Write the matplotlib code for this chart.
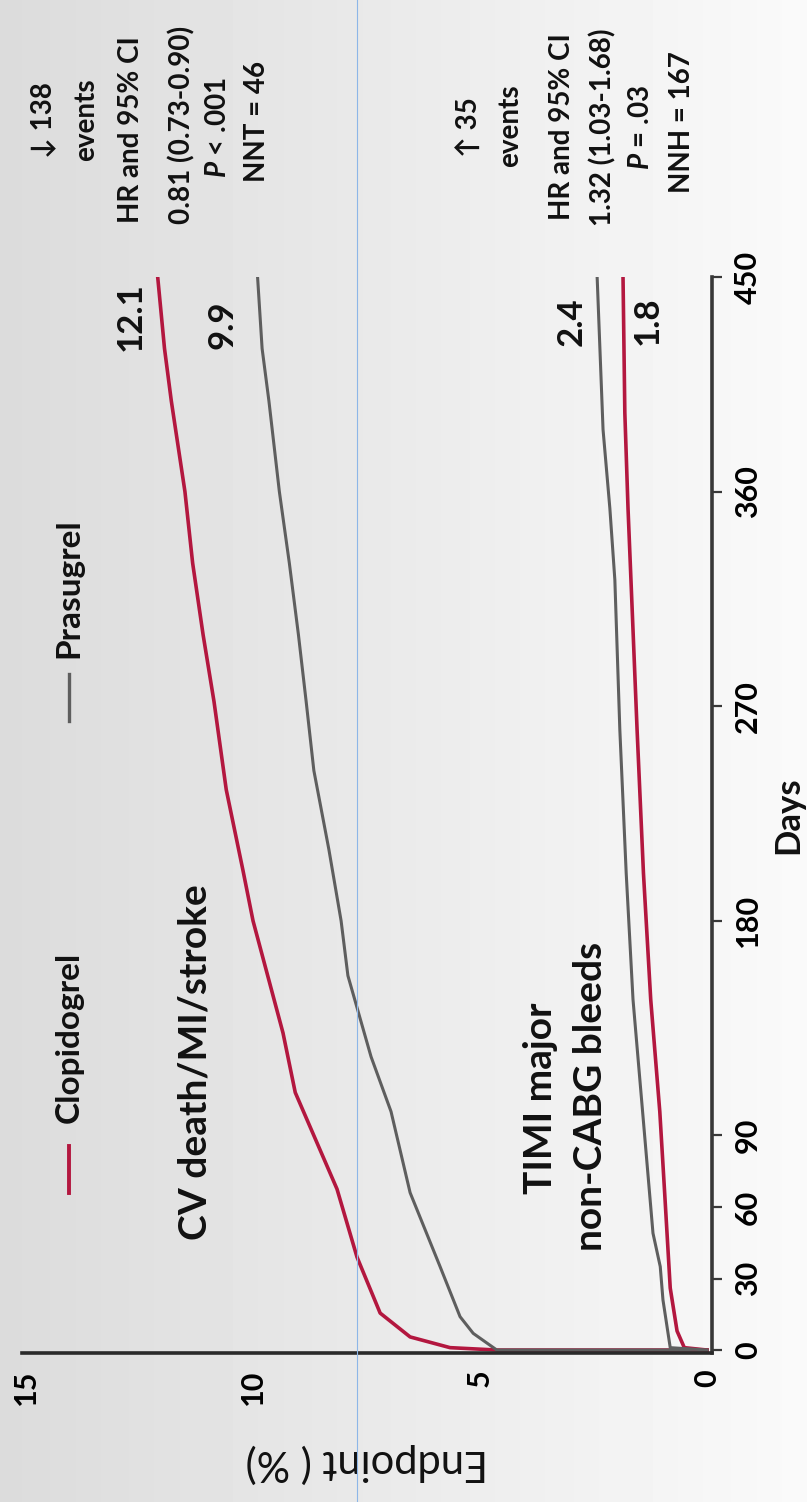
import matplotlib
matplotlib.use('Agg')
import matplotlib.pyplot as plt
import numpy as np
from matplotlib.lines import Line2D

# ---------------- data ----------------
days_cv_clop = [0, 0, 1, 5.5, 15.5, 39, 67.5, 108, 133, 180, 201, 235, 272, 300, 330, 360, 398, 420, 450]
cv_clop = [0, 4.63, 5.66, 6.54, 7.2, 7.71, 8.15, 9.07, 9.34, 10.0, 10.22, 10.59, 10.86, 11.1, 11.33, 11.5, 11.8, 11.95, 12.1]

days_cv_pras = [0, 0, 7, 14, 35, 66, 100, 123, 157, 180, 210, 243, 272, 300, 330, 360, 398, 420, 450]
cv_pras = [0, 4.63, 5.15, 5.44, 5.88, 6.54, 6.96, 7.4, 7.91, 8.06, 8.33, 8.66, 8.83, 9.0, 9.2, 9.42, 9.65, 9.8, 9.9]

days_bl_clop = [0, 1, 8, 26, 65, 100, 147, 200, 260, 302, 353, 393, 450]
bl_clop = [0, 0.5, 0.66, 0.81, 0.93, 1.04, 1.24, 1.4, 1.54, 1.63, 1.74, 1.81, 1.85]

days_bl_pras = [0, 1, 21, 35, 49, 98, 147, 200, 260, 323, 353, 386, 450]
bl_pras = [0, 0.81, 0.97, 1.03, 1.19, 1.41, 1.63, 1.78, 1.92, 2.03, 2.14, 2.29, 2.42]

day_ticks = [0, 30, 60, 90, 180, 270, 360, 450]
endpoint_ticks = [0, 5, 10, 15]
series_names = ['Clopidogrel', 'Prasugrel']
end_labels = ['12.1', '9.9', '2.4', '1.8']
block1 = ['\u2193 138', 'events', 'HR and 95% CI', '0.81 (0.73-0.90)', r'$\mathit{P}$ < .001', 'NNT = 46']
block2 = ['\u2191 35', 'events', 'HR and 95% CI', '1.32 (1.03-1.68)', r'$\mathit{P}$ = .03', 'NNH = 167']

RED = '#b3173f'
GRAY = '#5e5e5e'
AXC = '#383838'

W, H = 807, 1502
plt.rcParams['font.family'] = ['Lato', 'DejaVu Sans']
plt.rcParams['mathtext.fontset'] = 'custom'
plt.rcParams['mathtext.it'] = 'Lato:italic:bold'
plt.rcParams['mathtext.rm'] = 'Lato:bold'
plt.rcParams['mathtext.bf'] = 'Lato:bold'

fig = plt.figure(figsize=(W / 100, H / 100), dpi=100)

def fx(x):
    return x / W

def fy(y):
    return 1 - y / H

# background gradient
bg = fig.add_axes([0, 0, 1, 1], zorder=0)
grad = np.linspace(0.86, 0.98, 256)[None, :]
bg.imshow(grad, cmap='gray', vmin=0, vmax=1, aspect='auto', extent=[0, 1, 0, 1])
bg.axis('off')

# main axes (rotated layout: days vertical, endpoint horizontal reversed)
x_left_px, x_right_px = 21.5, 712
y_top_px, y_bot_px = 277, 1352.9
ax = fig.add_axes([fx(x_left_px), fy(y_bot_px), (x_right_px - x_left_px) / W, (y_bot_px - y_top_px) / H], zorder=2)
ax.patch.set_alpha(0)

ax.plot(cv_clop, days_cv_clop, color=RED, lw=2.6, solid_joinstyle='round')
ax.plot(cv_pras, days_cv_pras, color=GRAY, lw=2.2, solid_joinstyle='round')
ax.plot(bl_clop, days_bl_clop, color=RED, lw=2.6, solid_joinstyle='round')
ax.plot(bl_pras, days_bl_pras, color=GRAY, lw=2.2, solid_joinstyle='round')

ax.set_xlim(15.1, -0.11)
ax.set_ylim(-1.2, 450)
for s in ['left', 'top']:
    ax.spines[s].set_visible(False)
for s in ['right', 'bottom']:
    ax.spines[s].set_color(AXC)
    ax.spines[s].set_linewidth(2.6)
ax.spines['bottom'].set_color('#2a2a2a')

ax.yaxis.tick_right()
ax.set_yticks(day_ticks)
ax.set_yticklabels([str(d) for d in day_ticks])
ax.tick_params(axis='y', direction='out', length=7, width=1.6, color=AXC, pad=9, labelsize=22)
for t in ax.get_yticklabels():
    t.set_rotation(90)
    t.set_va('center')
    t.set_ha('left')
    t.set_fontweight('bold')

ax.set_xticks(endpoint_ticks)
ax.set_xticklabels([str(v) for v in endpoint_ticks])
ax.tick_params(axis='x', length=0, pad=12, labelsize=22)
for t in ax.get_xticklabels():
    t.set_rotation(90)
    t.set_va('top')
    t.set_ha('center')
    t.set_fontweight('bold')

# axis titles
fig.text(fx(367), fy(1463), 'Endpoint ( %)', rotation=180, ha='center', va='center', fontsize=30, color='#111')
fig.text(fx(788), fy(815), 'Days', rotation=90, ha='center', va='center', fontsize=25, fontweight='bold', color='#111')

# thin blue vertical artefact line
fig.add_artist(Line2D([fx(357), fx(357)], [0, 1], color='#8db6e8', lw=0.8, transform=fig.transFigure, zorder=5))

# legend
fig.add_artist(Line2D([fx(69), fx(69)], [fy(1193), fy(1146)], color=RED, lw=2.8, transform=fig.transFigure, zorder=3))
fig.text(fx(69), fy(1037), series_names[0], rotation=90, ha='center', va='center', fontsize=24, fontweight='bold', color='#111')
fig.add_artist(Line2D([fx(69), fx(69)], [fy(721), fy(674)], color=GRAY, lw=2.4, transform=fig.transFigure, zorder=3))
fig.text(fx(69), fy(588), series_names[1], rotation=90, ha='center', va='center', fontsize=24, fontweight='bold', color='#111')

# panel labels
fig.text(fx(195), fy(1062), 'CV death/MI/stroke', rotation=90, ha='center', va='center', fontsize=28, fontweight='bold', color='#111')
fig.text(fx(540), fy(1098), 'TIMI major', rotation=90, ha='center', va='center', fontsize=28, fontweight='bold', color='#111')
fig.text(fx(590), fy(1096), 'non-CABG bleeds', rotation=90, ha='center', va='center', fontsize=28, fontweight='bold', color='#111')

# end-value labels
end_pos = [(131, 317), (222, 325), (572, 322), (648, 321)]
for lab, (x, y) in zip(end_labels, end_pos):
    fig.text(fx(x), fy(y), lab, rotation=90, ha='center', va='center', fontsize=25, fontweight='bold', color='#111')

# statistics blocks
b1_pos = [(43, 120), (86, 120), (131, 130), (182, 125), (218, 128), (257, 122)]
b2_pos = [(470, 127), (510, 126), (562, 127), (603, 127), (641, 127), (682, 122)]
for lines, poss in [(block1, b1_pos), (block2, b2_pos)]:
    for lab, (x, y) in zip(lines, poss):
        fig.text(fx(x), fy(y), lab, rotation=90, ha='center', va='center', fontsize=20, fontweight='bold', color='#111')

fig.save = None
fig.savefig('out.png', dpi=100)
